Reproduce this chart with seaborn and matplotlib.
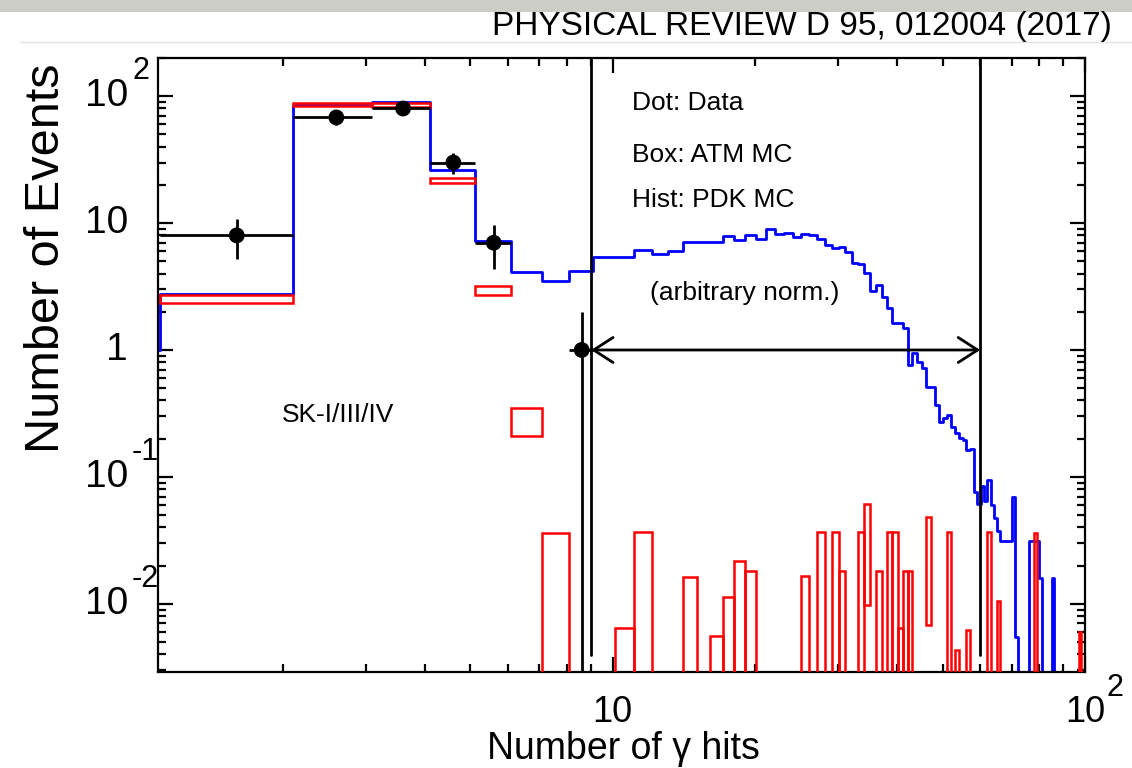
import numpy as np
import matplotlib
matplotlib.use("Agg")
import matplotlib.pyplot as plt
import seaborn as sns
import pandas as pd
from matplotlib.transforms import blended_transform_factory, offset_copy
from matplotlib.patches import Rectangle
from matplotlib.lines import Line2D

# ---------------- data ----------------
# PDK MC histogram: bin n covers [n+0.1, n+1.1] gamma hits (n = 0..99)
pdk_mc = [
    1.0, 2.78, 85, 90, 26.1, 7.26, 4.1, 3.49, 4.21, 5.45,
    5.45, 6.13, 5.67, 5.99, 7.08, 7.05, 7.05, 7.94, 7.35, 8.05,
    7.44, 8.92, 8.17, 8.39, 7.8, 8.19, 8.05, 7.44, 6.71, 6.32,
    6.51, 5.94, 4.87, 4.75, 4.02, 2.93, 3.23, 2.63, 2.13, 1.62,
    1.62, 1.48, 0.76, 0.94, 0.81, 0.72, 0.514, 0.514, 0.369, 0.273,
    0.29, 0.308, 0.249, 0.221, 0.202, 0.196, 0.163, 0.165, 0.0755, 0.0608,
    0.085, 0.065, 0.095, 0.06, 0.0475, 0.0372, 0.031, 0.031, 0.031, 0.031,
    0.069, 0.0055, 0, 0, 0, 0, 0.031, 0.031, 0.031, 0.031,
    0.0159, 0, 0, 0, 0, 0.0159, 0, 0, 0, 0,
    0, 0, 0, 0, 0, 0, 0, 0, 0, 0,
]

# Data points (bin n -> [n+0.1, n+1.1])
data_bins = [1, 2, 3, 4, 5, 8]
data_counts = [8, 68, 80, 30, 7, 1]

# Atmospheric MC boxes (lower / upper edge of each box)
atm_bins = [1, 2, 3, 4, 5, 6, 7, 10, 11, 14, 16, 17, 18, 19, 25, 27, 29, 30, 33,
            34, 36, 38, 39, 40, 41, 42, 46, 51, 53, 56, 62, 65, 78, 97]
atm_lo = [2.34, 83, 82, 20.8, 2.70, 0.21, 0, 0, 0, 0, 0, 0, 0, 0, 0, 0, 0, 0, 0,
          0.0098, 0, 0, 0, 0, 0, 0, 0.0068, 0, 0, 0, 0, 0, 0, 0]
atm_hi = [2.71, 88, 88, 22.6, 3.19, 0.35, 0.036, 0.0064, 0.037, 0.0162, 0.0056,
          0.0114, 0.0218, 0.018, 0.0166, 0.0369, 0.0369, 0.018, 0.0369,
          0.061, 0.018, 0.0369, 0.0369, 0.0065, 0.018, 0.018, 0.048,
          0.0369, 0.0043, 0.0062, 0.0369, 0.0106, 0.036, 0.006]

cut_range = [9, 60]
bin_offset = 0.1

y_tick_vals = [100, 10, 1, 0.1, 0.01]
y_tick_base = ["10", "10", "1", "10", "10"]
y_tick_exp = ["2", "", "", "-1", "-2"]
x_tick_vals = [10, 100]
x_tick_base = ["10", "10"]
x_tick_exp = ["", "2"]

# ---------------- style ----------------
sns.set_theme(style="white")
plt.rcParams["font.family"] = ["Liberation Sans", "DejaVu Sans"]
plt.rcParams["axes.linewidth"] = 1.6
plt.rcParams["text.color"] = "black"

W, H = 1132, 768
fig = plt.figure(figsize=(W / 100, H / 100), dpi=100, facecolor="white")

# page decorations
fig.patches.append(Rectangle((0, 1 - 12 / H), 1, 12 / H, transform=fig.transFigure,
                             facecolor="#cdcdc8", edgecolor="none"))
fig.add_artist(Line2D([20 / W, 1], [1 - 42 / H, 1 - 42 / H], color="#e4e4e4", lw=1))
fig.text(1112 / W, 1 - 27 / H, "PHYSICAL REVIEW D 95, 012004 (2017)",
         ha="right", va="center", fontsize=24, color="black")

ax = fig.add_axes([158 / W, 1 - 672 / H, 927 / W, 614 / H])
ax.set_xscale("log")
ax.set_yscale("log")
ymin, ymax = 0.0029, 200
ax.set_xlim(1.09, 100)
ax.set_ylim(ymin, ymax)

# PDK MC histogram (blue step line)
pdk = np.array(pdk_mc, dtype=float)
left_edges = np.arange(len(pdk)) + bin_offset
x_step = np.append(left_edges, left_edges[-1] + 1)
y_step = np.append(pdk, pdk[-1])
df_pdk = pd.DataFrame({"x": x_step, "y": np.maximum(y_step, ymin)})
sns.lineplot(data=df_pdk, x="x", y="y", drawstyle="steps-post", color="#0000ff",
             lw=2.0, estimator=None, sort=False, ax=ax, zorder=2)

# ATM MC boxes
a_lo = np.array(atm_lo, dtype=float)
a_hi = np.array(atm_hi, dtype=float)
a_lo_draw = np.where(a_lo > 0, a_lo, 1e-5)
ax.bar(np.array(atm_bins) + bin_offset, a_hi - a_lo_draw, bottom=a_lo_draw, width=1.0,
       align="edge", fill=False, edgecolor="#ff0000", linewidth=1.8, zorder=3)

# Data points
cnt = np.array(data_counts, dtype=float)
centers = np.array(data_bins) + bin_offset + 0.5
err = np.sqrt(cnt)
lower = np.where(cnt - err > 0, err, cnt - 1e-6)
ax.errorbar(centers, cnt, xerr=0.5, yerr=[lower, err], fmt="none", ecolor="black",
            elinewidth=2.0, capsize=0, zorder=4)
sns.scatterplot(x=centers, y=cnt, color="black", s=130, edgecolor="none", ax=ax, zorder=5)

# cut lines and arrow
for c in cut_range:
    ax.axvline(c, ymin=(672 - 655) / 614, ymax=1, color="black", lw=2.0, zorder=4)
ax.annotate("", xy=(cut_range[0], 1), xytext=(cut_range[1], 1),
            arrowprops=dict(arrowstyle="<->,head_length=0.7,head_width=0.45",
                            lw=2.0, color="black", shrinkA=0, shrinkB=0,
                            mutation_scale=20), zorder=4)

# annotations
tkw = dict(transform=ax.transAxes, fontsize=19, ha="left", va="center", color="black")
ax.text((632 - 158) / 927, (672 - 103) / 614, "Dot: Data", **tkw)
ax.text((632 - 158) / 927, (672 - 155) / 614, "Box: ATM MC", **tkw)
ax.text((632 - 158) / 927, (672 - 200) / 614, "Hist: PDK MC", **tkw)
ax.text((650 - 158) / 927, (672 - 293) / 614, "(arbitrary norm.)", **tkw)
ax.text((282 - 158) / 927, (672 - 415) / 614, "SK-I/III/IV", **tkw)

# ticks
ax.set_xticks(x_tick_vals)
ax.set_xticks([v * d for d in (1, 10) for v in range(2, 10)], minor=True)
ax.set_yticks(y_tick_vals)
ax.set_yticks([v * d for d in (0.001, 0.01, 0.1, 1, 10, 100) for v in range(2, 10)], minor=True)
ax.set_xlim(1.09, 100)
ax.set_ylim(ymin, ymax)
ax.tick_params(which="both", direction="in", top=True, right=True, bottom=True, left=True,
               labelbottom=False, labelleft=False, color="black", width=1.6)
ax.tick_params(which="major", length=11)
ax.tick_params(which="minor", length=5.5)
for s in ax.spines.values():
    s.set_color("black")
    s.set_linewidth(1.6)
ax.set_xlabel("")
ax.set_ylabel("")
ax.grid(False)

# custom tick labels
ty = blended_transform_factory(ax.transAxes, ax.transData)
for v, b, e in zip(y_tick_vals, y_tick_base, y_tick_exp):
    ax.text((128 - 158) / 927, v, b, transform=ty, ha="right", va="center",
            fontsize=28, clip_on=False, color="black")
    if e:
        ax.text((132 - 158) / 927, v, e,
                transform=offset_copy(ty, fig=fig, x=0, y=25, units="dots"),
                ha="left", va="center", fontsize=22, clip_on=False, color="black")
tx = blended_transform_factory(ax.transData, ax.transAxes)
for v, b, e in zip(x_tick_vals, x_tick_base, x_tick_exp):
    ax.text(v, (672 - 712) / 614, b, transform=tx, ha="center", va="center",
            fontsize=26, clip_on=False, color="black")
    if e:
        ax.text(v, (672 - 712) / 614, e,
                transform=offset_copy(tx, fig=fig, x=21, y=24, units="dots"),
                ha="left", va="center", fontsize=22, clip_on=False, color="black")

# axis titles
fig.text(623 / W, 1 - 759 / H, "Number of \u03b3 hits", ha="center", va="baseline",
         fontsize=27, color="black")
fig.text(47 / W, 1 - 258 / H, "Number of Events", ha="center", va="center",
         rotation=90, fontsize=35, color="black")

fig.savefig("out.png", dpi=100, facecolor="white")
